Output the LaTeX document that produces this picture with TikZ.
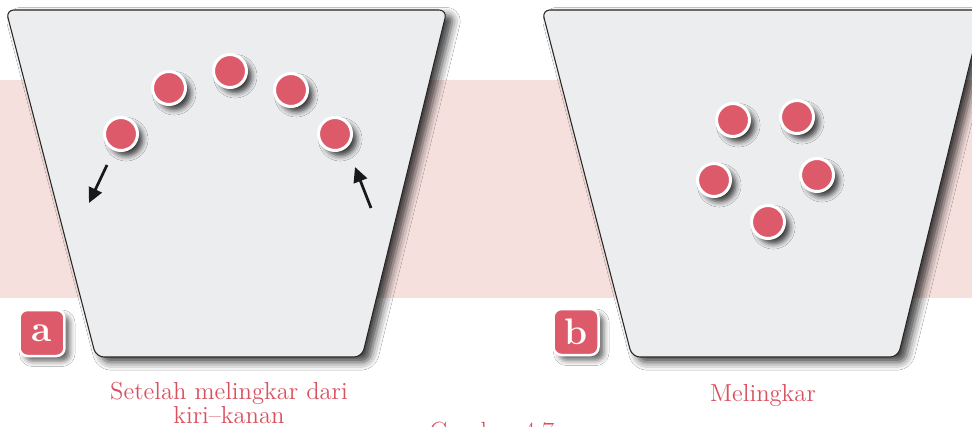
\documentclass[tikz,border=0pt]{standalone}
\usepackage{tikz}
\usetikzlibrary{arrows.meta,shadows.blur}
\definecolor{dotred}{HTML}{DC5A69}
\definecolor{panelgray}{HTML}{ECEDEF}
\definecolor{bandpink}{HTML}{F6E0DE}
\definecolor{captionred}{HTML}{D9505F}

\begin{document}
\begin{tikzpicture}[x=0.02cm,y=-0.02cm]
\tikzstyle{every node}=[]
\tikzstyle{panel}=[fill=panelgray,draw=black!85,line width=0.6pt,rounded corners=0.16cm,
  blur shadow={shadow xshift=4pt,shadow yshift=-3pt,shadow blur radius=4.5pt,shadow opacity=75}]
\tikzstyle{ball}=[circle,fill=dotred,draw=white,line width=0.06cm,minimum size=0.66cm,inner sep=0pt,
  blur shadow={shadow xshift=3pt,shadow yshift=-3pt,shadow blur radius=3pt,shadow opacity=75}]
\tikzstyle{badge}=[fill=dotred,draw=white,line width=0.05cm,rounded corners=0.16cm,
  minimum width=0.9cm,minimum height=0.92cm,inner sep=0pt,text=white,
  font=\fontsize{21}{21}\selectfont\bfseries,
  blur shadow={shadow xshift=3pt,shadow yshift=-3pt,shadow blur radius=3pt,shadow opacity=60}]
\tikzstyle{caption}=[text=captionred,font=\fontsize{14}{11}\selectfont,align=center,inner sep=0pt]
\tikzstyle{move}=[line width=0.055cm,black!90,-{Triangle[length=0.3cm,width=0.28cm]}]
\def \dx {536}

\useasboundingbox (0,0) rectangle (972,426);
\fill[white] (0,0) rectangle (972,426);
\fill[bandpink] (0,80) rectangle (972,298);

% the two vessels
\path[panel] (6,10) -- (447,10) -- (362,357) -- (96,357) -- cycle;
\path[panel] (6+\dx,10) -- (447+\dx,10) -- (362+\dx,357) -- (96+\dx,357) -- cycle;

% a: balls on an arc
\node [ball] (l1) at (121,134) {};
\node [ball] (l2) at (169,88) {};
\node [ball] (l3) at (230,71) {};
\node [ball] (l4) at (291,90) {};
\node [ball] (l5) at (335,134) {};
\coordinate (la0) at (107,165);
\coordinate (la1) at (89,203);
\coordinate (ra0) at (371,208);
\coordinate (ra1) at (355,167);
\draw [move] (la0) -- (la1);
\draw [move] (ra0) -- (ra1);

% b: balls in a ring
\node [ball] (r1) at (733,120) {};
\node [ball] (r2) at (797,117) {};
\node [ball] (r3) at (714,180) {};
\node [ball] (r4) at (817,175) {};
\node [ball] (r5) at (768,222) {};

% labels
\node [badge] (ba) at (42,333) {a};
\node [badge] (bb) at (576,332) {b};
\node [caption,anchor=north] (capa) at (229,382) {Setelah melingkar dari\\kiri--kanan};
\node [caption,anchor=base] (capb) at (763,401) {Melingkar};
\node [caption,anchor=base,font=\fontsize{15}{15}\selectfont] (fig) at (492,440) {Gambar 4.7};
\end{tikzpicture}
\end{document}
